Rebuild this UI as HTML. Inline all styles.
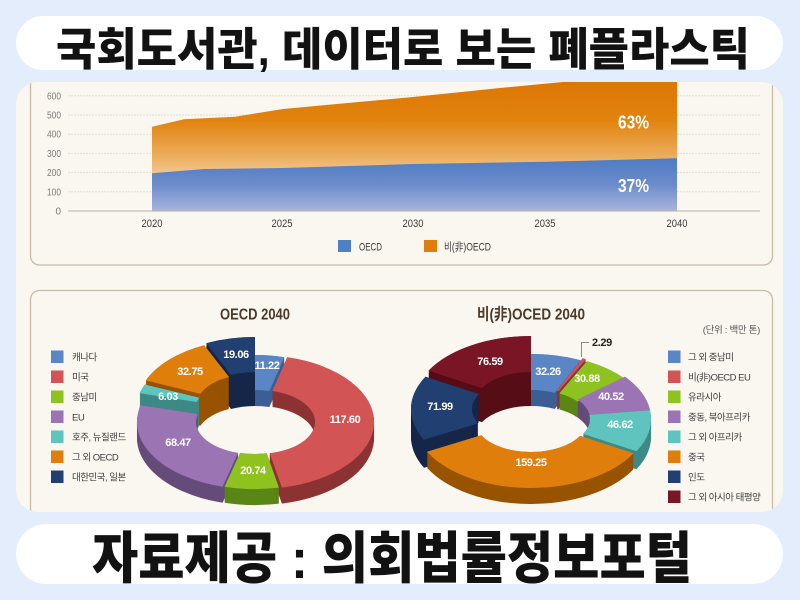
<!DOCTYPE html>
<html>
<head>
<meta charset="utf-8">
<style>
  html,body{margin:0;padding:0;width:800px;height:600px;overflow:hidden;background:#e4edfc;}
  svg{display:block;}
  .kr{font-family:"Liberation Sans","Noto Sans CJK KR",sans-serif;}
  .lat{font-family:"Liberation Sans",sans-serif;}
</style>
</head>
<body>
<svg width="800" height="600" viewBox="0 0 800 600" xmlns="http://www.w3.org/2000/svg">
  <defs>
    <linearGradient id="gO" gradientUnits="userSpaceOnUse" x1="0" y1="82" x2="0" y2="178">
      <stop offset="0" stop-color="#dc7604"/>
      <stop offset="0.4" stop-color="#e1840e"/>
      <stop offset="0.75" stop-color="#ebaa58"/>
      <stop offset="1" stop-color="#f4cd9b"/>
    </linearGradient>
    <linearGradient id="gB" gradientUnits="userSpaceOnUse" x1="0" y1="158" x2="0" y2="211">
      <stop offset="0" stop-color="#4e7bc4"/>
      <stop offset="0.5" stop-color="#6c8bcb"/>
      <stop offset="1" stop-color="#a8b4dc"/>
    </linearGradient>
    <clipPath id="panelClip">
      <rect x="16" y="82" width="767" height="430" rx="22"/>
    </clipPath>

    <filter id="e16" filterUnits="userSpaceOnUse" x="0" y="-60" width="800" height="720">
      <feOffset in="SourceGraphic" dy="1" result="o1"/>
      <feMerge result="m1"><feMergeNode in="SourceGraphic"/><feMergeNode in="o1"/></feMerge>
      <feOffset in="m1" dy="2" result="o2"/>
      <feMerge result="m2"><feMergeNode in="m1"/><feMergeNode in="o2"/></feMerge>
      <feOffset in="m2" dy="4" result="o3"/>
      <feMerge result="m3"><feMergeNode in="m2"/><feMergeNode in="o3"/></feMerge>
      <feOffset in="m3" dy="8" result="o4"/>
      <feMerge result="m4"><feMergeNode in="m3"/><feMergeNode in="o4"/></feMerge>
      <feOffset in="m4" dy="1" result="o5"/>
      <feMerge><feMergeNode in="m4"/><feMergeNode in="o5"/></feMerge>
    </filter>
    <filter id="e18" filterUnits="userSpaceOnUse" x="0" y="-60" width="800" height="720">
      <feOffset in="SourceGraphic" dy="1" result="o1"/>
      <feMerge result="m1"><feMergeNode in="SourceGraphic"/><feMergeNode in="o1"/></feMerge>
      <feOffset in="m1" dy="2" result="o2"/>
      <feMerge result="m2"><feMergeNode in="m1"/><feMergeNode in="o2"/></feMerge>
      <feOffset in="m2" dy="4" result="o3"/>
      <feMerge result="m3"><feMergeNode in="m2"/><feMergeNode in="o3"/></feMerge>
      <feOffset in="m3" dy="8" result="o4"/>
      <feMerge result="m4"><feMergeNode in="m3"/><feMergeNode in="o4"/></feMerge>
      <feOffset in="m4" dy="3" result="o5"/>
      <feMerge><feMergeNode in="m4"/><feMergeNode in="o5"/></feMerge>
    </filter>
    <filter id="e28" filterUnits="userSpaceOnUse" x="0" y="-60" width="800" height="720">
      <feOffset in="SourceGraphic" dy="1" result="o1"/>
      <feMerge result="m1"><feMergeNode in="SourceGraphic"/><feMergeNode in="o1"/></feMerge>
      <feOffset in="m1" dy="2" result="o2"/>
      <feMerge result="m2"><feMergeNode in="m1"/><feMergeNode in="o2"/></feMerge>
      <feOffset in="m2" dy="4" result="o3"/>
      <feMerge result="m3"><feMergeNode in="m2"/><feMergeNode in="o3"/></feMerge>
      <feOffset in="m3" dy="8" result="o4"/>
      <feMerge result="m4"><feMergeNode in="m3"/><feMergeNode in="o4"/></feMerge>
      <feOffset in="m4" dy="13" result="o5"/>
      <feMerge><feMergeNode in="m4"/><feMergeNode in="o5"/></feMerge>
    </filter>
    <filter id="e32" filterUnits="userSpaceOnUse" x="0" y="-60" width="800" height="720">
      <feOffset in="SourceGraphic" dy="1" result="o1"/>
      <feMerge result="m1"><feMergeNode in="SourceGraphic"/><feMergeNode in="o1"/></feMerge>
      <feOffset in="m1" dy="2" result="o2"/>
      <feMerge result="m2"><feMergeNode in="m1"/><feMergeNode in="o2"/></feMerge>
      <feOffset in="m2" dy="4" result="o3"/>
      <feMerge result="m3"><feMergeNode in="m2"/><feMergeNode in="o3"/></feMerge>
      <feOffset in="m3" dy="8" result="o4"/>
      <feMerge result="m4"><feMergeNode in="m3"/><feMergeNode in="o4"/></feMerge>
      <feOffset in="m4" dy="16" result="o5"/>
      <feMerge result="m5"><feMergeNode in="m4"/><feMergeNode in="o5"/></feMerge>
      <feOffset in="m5" dy="1" result="o6"/>
      <feMerge><feMergeNode in="m5"/><feMergeNode in="o6"/></feMerge>
    </filter>
    <filter id="e34" filterUnits="userSpaceOnUse" x="0" y="-60" width="800" height="720">
      <feOffset in="SourceGraphic" dy="1" result="o1"/>
      <feMerge result="m1"><feMergeNode in="SourceGraphic"/><feMergeNode in="o1"/></feMerge>
      <feOffset in="m1" dy="2" result="o2"/>
      <feMerge result="m2"><feMergeNode in="m1"/><feMergeNode in="o2"/></feMerge>
      <feOffset in="m2" dy="4" result="o3"/>
      <feMerge result="m3"><feMergeNode in="m2"/><feMergeNode in="o3"/></feMerge>
      <feOffset in="m3" dy="8" result="o4"/>
      <feMerge result="m4"><feMergeNode in="m3"/><feMergeNode in="o4"/></feMerge>
      <feOffset in="m4" dy="16" result="o5"/>
      <feMerge result="m5"><feMergeNode in="m4"/><feMergeNode in="o5"/></feMerge>
      <feOffset in="m5" dy="3" result="o6"/>
      <feMerge><feMergeNode in="m5"/><feMergeNode in="o6"/></feMerge>
    </filter>

    <path id="L1" d="M255,355 A116,67 0 0 1 284.3,357.2 L269.4,391.0 A57,32 0 0 0 255,390 Z"/>
    <path id="L2" d="M284.3,357.2 A116,67 0 0 1 278.9,487.6 L266.7,453.3 A57,32 0 0 0 269.4,391.0 Z"/>
    <path id="L3" d="M278.9,487.6 A116,67 0 0 1 224.6,486.7 L240.1,452.9 A57,32 0 0 0 266.7,453.3 Z"/>
    <path id="L4" d="M224.6,486.7 A116,67 0 0 1 142.7,405.2 L199.8,414.0 A57,32 0 0 0 240.1,452.9 Z"/>
    <path id="L5" d="M142.7,405.2 A116,67 0 0 1 147.8,396.5 L202.3,409.8 A57,32 0 0 0 199.8,414.0 Z"/>
    <path id="L6" d="M147.8,396.5 A116,67 0 0 1 206.2,361.2 L231.0,393.0 A57,32 0 0 0 202.3,409.8 Z"/>
    <path id="L7" d="M206.2,361.2 A116,67 0 0 1 255,355 L255,390 A57,32 0 0 0 231.0,393.0 Z"/>

    <path id="R1" d="M531,354 A117,67 0 0 1 580.7,360.3 L554.8,392.9 A56,31 0 0 0 531,390 Z"/>
    <path id="R2" d="M580.7,360.3 A117,67 0 0 1 583.9,361.2 L556.3,393.4 A56,31 0 0 0 554.8,392.9 Z"/>
    <path id="R3" d="M583.9,361.2 A117,67 0 0 1 621.9,378.8 L574.5,401.5 A56,31 0 0 0 556.3,393.4 Z"/>
    <path id="R4" d="M621.9,378.8 A117,67 0 0 1 647.0,412.2 L586.5,416.9 A56,31 0 0 0 574.5,401.5 Z"/>
    <path id="R5" d="M647.0,412.2 A117,67 0 0 1 633.5,453.3 L580.1,435.9 A56,31 0 0 0 586.5,416.9 Z"/>
    <path id="R6" d="M633.5,453.3 A117,67 0 0 1 427.0,451.7 L481.2,435.2 A56,31 0 0 0 580.1,435.9 Z"/>
    <path id="R7" d="M427.0,451.7 A117,67 0 0 1 428.5,388.7 L481.9,406.1 A56,31 0 0 0 481.2,435.2 Z"/>
    <path id="R8" d="M428.5,388.7 A117,67 0 0 1 531,354 L531,390 A56,31 0 0 0 481.9,406.1 Z"/>
  </defs>

  <rect x="0" y="0" width="800" height="600" fill="#e4edfc"/>

  <rect x="16" y="16" width="767" height="54" rx="27" fill="#ffffff"/>
  <text class="kr" x="56" y="65" font-size="45" font-weight="900" fill="#121212" textLength="694" lengthAdjust="spacingAndGlyphs">국회도서관, 데이터로 보는 폐플라스틱</text>

  <rect x="16" y="82" width="767" height="430" rx="22" fill="#faf7f0"/>

  <g clip-path="url(#panelClip)">
    <rect x="30.5" y="40" width="742" height="225" rx="9" fill="none" stroke="#c6bca5" stroke-width="1.3"/>
    <rect x="30.5" y="290.5" width="742" height="270" rx="9" fill="none" stroke="#c6bca5" stroke-width="1.3"/>

    <g stroke="#e2ddd2" stroke-width="1" stroke-dasharray="2 1">
      <line x1="68" y1="95.8" x2="760" y2="95.8"/>
      <line x1="68" y1="115" x2="760" y2="115"/>
      <line x1="68" y1="134.2" x2="760" y2="134.2"/>
      <line x1="68" y1="153.4" x2="760" y2="153.4"/>
      <line x1="68" y1="172.6" x2="760" y2="172.6"/>
      <line x1="68" y1="191.8" x2="760" y2="191.8"/>
    </g>

    <polygon fill="url(#gO)" points="152,211 152,126.7 184,119.3 235,116.7 283,109 326,105 413,97 500,88 566,81.7 620,74 677,66 677,211"/>
    <polygon fill="url(#gB)" points="152,211 152,173.3 204,169 283,168 413,164 546,161.7 677,158.3 677,211"/>
    <line x1="68" y1="211" x2="760" y2="211" stroke="#bab3a5" stroke-width="1"/>

    <text class="lat" x="618" y="128.5" font-size="18" font-weight="bold" fill="#ffffff" textLength="31" lengthAdjust="spacingAndGlyphs">63%</text>
    <text class="lat" x="618" y="192" font-size="18" font-weight="bold" fill="#ffffff" textLength="31" lengthAdjust="spacingAndGlyphs">37%</text>

    <g class="lat" font-size="10" fill="#7a7a7a" text-anchor="end">
      <text x="61" y="99.3" textLength="14" lengthAdjust="spacingAndGlyphs">600</text>
      <text x="61" y="118.5" textLength="14" lengthAdjust="spacingAndGlyphs">500</text>
      <text x="61" y="137.7" textLength="14" lengthAdjust="spacingAndGlyphs">400</text>
      <text x="61" y="156.9" textLength="14" lengthAdjust="spacingAndGlyphs">300</text>
      <text x="61" y="176.1" textLength="14" lengthAdjust="spacingAndGlyphs">200</text>
      <text x="61" y="195.3" textLength="14" lengthAdjust="spacingAndGlyphs">100</text>
      <text x="61" y="214.5">0</text>
    </g>

    <g class="lat" font-size="11" fill="#3a3a3a">
      <text x="141.5" y="227" textLength="21" lengthAdjust="spacingAndGlyphs">2020</text>
      <text x="271.5" y="227" textLength="21" lengthAdjust="spacingAndGlyphs">2025</text>
      <text x="402.5" y="227" textLength="21" lengthAdjust="spacingAndGlyphs">2030</text>
      <text x="534.5" y="227" textLength="21" lengthAdjust="spacingAndGlyphs">2035</text>
      <text x="666.5" y="227" textLength="21" lengthAdjust="spacingAndGlyphs">2040</text>
    </g>

    <rect x="338" y="240" width="13" height="12" fill="#4f7fc5"/>
    <text class="kr" x="359" y="250.5" font-size="11" fill="#3a3a3a" textLength="23" lengthAdjust="spacingAndGlyphs">OECD</text>
    <rect x="424" y="240" width="13" height="12" fill="#e07e0b"/>
    <text class="kr" x="444" y="250.5" font-size="11" fill="#3a3a3a" textLength="47" lengthAdjust="spacingAndGlyphs">비(非)OECD</text>

    <text class="kr" x="220" y="319.5" font-size="16" font-weight="bold" fill="#4b3a29" textLength="70" lengthAdjust="spacingAndGlyphs">OECD 2040</text>
    <text class="kr" x="477" y="319.5" font-size="16" font-weight="bold" fill="#4b3a29" textLength="108" lengthAdjust="spacingAndGlyphs">비(非)OCED 2040</text>
    <text class="kr" x="760" y="333" font-size="9.5" fill="#555" text-anchor="end" letter-spacing="-0.3">(단위 : 백만 톤)</text>

    <g class="kr" font-size="9.5" fill="#3d3d3d" letter-spacing="-0.5">
      <rect x="51" y="350.5" width="12.5" height="12.5" fill="#5a86c6"/><text x="72" y="360.3">캐나다</text>
      <rect x="51" y="370.5" width="12.5" height="12.5" fill="#d35454"/><text x="72" y="380.3">미국</text>
      <rect x="51" y="390.5" width="12.5" height="12.5" fill="#8dc21f"/><text x="72" y="400.3">중남미</text>
      <rect x="51" y="410.5" width="12.5" height="12.5" fill="#9a74b3"/><text x="72" y="420.3">EU</text>
      <rect x="51" y="430.5" width="12.5" height="12.5" fill="#5fc4be"/><text x="72" y="440.3">호주, 뉴질랜드</text>
      <rect x="51" y="450.5" width="12.5" height="12.5" fill="#e07e0b"/><text x="72" y="460.3">그 외 OECD</text>
      <rect x="51" y="470.5" width="12.5" height="12.5" fill="#213f70"/><text x="72" y="480.3">대한민국, 일본</text>
    </g>

    <g class="kr" font-size="9.5" fill="#3d3d3d" letter-spacing="-0.5">
      <rect x="668" y="350.5" width="12.5" height="12.5" fill="#5a86c6"/><text x="688" y="360.3">그 외 중남미</text>
      <rect x="668" y="370.5" width="12.5" height="12.5" fill="#d35454"/><text x="688" y="380.3">비(非)OECD EU</text>
      <rect x="668" y="390.5" width="12.5" height="12.5" fill="#8dc21f"/><text x="688" y="400.3">유라시아</text>
      <rect x="668" y="410.5" width="12.5" height="12.5" fill="#9a74b3"/><text x="688" y="420.3">중동, 북아프리카</text>
      <rect x="668" y="430.5" width="12.5" height="12.5" fill="#5fc4be"/><text x="688" y="440.3">그 외 아프리카</text>
      <rect x="668" y="450.5" width="12.5" height="12.5" fill="#e07e0b"/><text x="688" y="460.3">중국</text>
      <rect x="668" y="470.5" width="12.5" height="12.5" fill="#213f70"/><text x="688" y="480.3">인도</text>
      <rect x="668" y="490.5" width="12.5" height="12.5" fill="#7a1526"/><text x="688" y="500.3">그 외 아시아 태평양</text>
    </g>

    <g>
      <use href="#L7" fill="#13284a" transform="translate(0,-18)" filter="url(#e34)"/>
      <use href="#L6" fill="#975206" transform="translate(-2,-16)" filter="url(#e32)"/>
      <use href="#L5" fill="#3d8985" transform="translate(-3,-12)" filter="url(#e28)"/>
      <use href="#L1" fill="#3b5e95" transform="translate(0,0)" filter="url(#e16)"/>
      <use href="#L4" fill="#654b7a" transform="translate(-2,0)" filter="url(#e16)"/>
      <use href="#L2" fill="#8c3232" transform="translate(3,0)" filter="url(#e16)"/>
      <use href="#L3" fill="#5a8614" transform="translate(0,0)" filter="url(#e16)"/>
    </g>
    <g>
      <use href="#L7" fill="#213f70" transform="translate(0,-18)"/>
      <use href="#L6" fill="#e07e0b" transform="translate(-2,-16)"/>
      <use href="#L1" fill="#5a86c6" transform="translate(0,0)"/>
      <use href="#L5" fill="#5fc4be" transform="translate(-3,-12)"/>
      <use href="#L4" fill="#9a74b3" transform="translate(-2,0)"/>
      <use href="#L2" fill="#d35454" transform="translate(3,0)"/>
      <use href="#L3" fill="#8dc21f" transform="translate(0,0)"/>
    </g>

    <g>
      <use href="#R8" fill="#560c18" transform="translate(0,-18)" filter="url(#e34)"/>
      <use href="#R7" fill="#13284a" transform="translate(-3,-12)" filter="url(#e28)"/>
      <use href="#R1" fill="#3b5e95" transform="translate(0,0)" filter="url(#e16)"/>
      <use href="#R2" fill="#8c3232" transform="translate(2,-2)" filter="url(#e18)"/>
      <use href="#R3" fill="#5a8614" transform="translate(3,0)" filter="url(#e16)"/>
      <use href="#R4" fill="#654b7a" transform="translate(3,-2)" filter="url(#e18)"/>
      <use href="#R5" fill="#3d8985" transform="translate(3,-2)" filter="url(#e18)"/>
      <use href="#R6" fill="#975206" transform="translate(0,0)" filter="url(#e16)"/>
    </g>
    <g>
      <use href="#R8" fill="#7a1526" transform="translate(0,-18)"/>
      <use href="#R7" fill="#213f70" transform="translate(-3,-12)"/>
      <use href="#R1" fill="#5a86c6" transform="translate(0,0)"/>
      <use href="#R2" fill="#d35454" transform="translate(2,-2)"/>
      <use href="#R3" fill="#8dc21f" transform="translate(3,0)"/>
      <use href="#R4" fill="#9a74b3" transform="translate(3,-2)"/>
      <use href="#R5" fill="#5fc4be" transform="translate(3,-2)"/>
      <use href="#R6" fill="#e07e0b" transform="translate(0,0)"/>
    </g>

    <g class="lat" font-size="11" font-weight="bold" fill="#ffffff" text-anchor="middle" letter-spacing="-0.4">
      <text x="236" y="358">19.06</text>
      <text x="267" y="369">11.22</text>
      <text x="190" y="375">32.75</text>
      <text x="168" y="400">6.03</text>
      <text x="345" y="423">117.60</text>
      <text x="178" y="446">68.47</text>
      <text x="253" y="474">20.74</text>
    </g>

    <g class="lat" font-size="11" font-weight="bold" fill="#ffffff" text-anchor="middle" letter-spacing="-0.4">
      <text x="490" y="365">76.59</text>
      <text x="548" y="375">32.26</text>
      <text x="587" y="382">30.88</text>
      <text x="611" y="400">40.52</text>
      <text x="620" y="428">46.62</text>
      <text x="440" y="410">71.99</text>
      <text x="531" y="466">159.25</text>
    </g>
    <polyline points="581.5,357 581.5,342.5 589,342.5" fill="none" stroke="#8a8a8a" stroke-width="1"/>
    <text class="lat" x="592" y="346" font-size="11" font-weight="bold" fill="#222" letter-spacing="-0.4">2.29</text>
  </g>

  <rect x="16" y="524" width="767" height="60" rx="30" fill="#ffffff"/>
  <text class="kr" x="92" y="578" font-size="56" font-weight="900" fill="#121212" textLength="600" lengthAdjust="spacingAndGlyphs">자료제공 : 의회법률정보포털</text>
</svg>
</body>
</html>
